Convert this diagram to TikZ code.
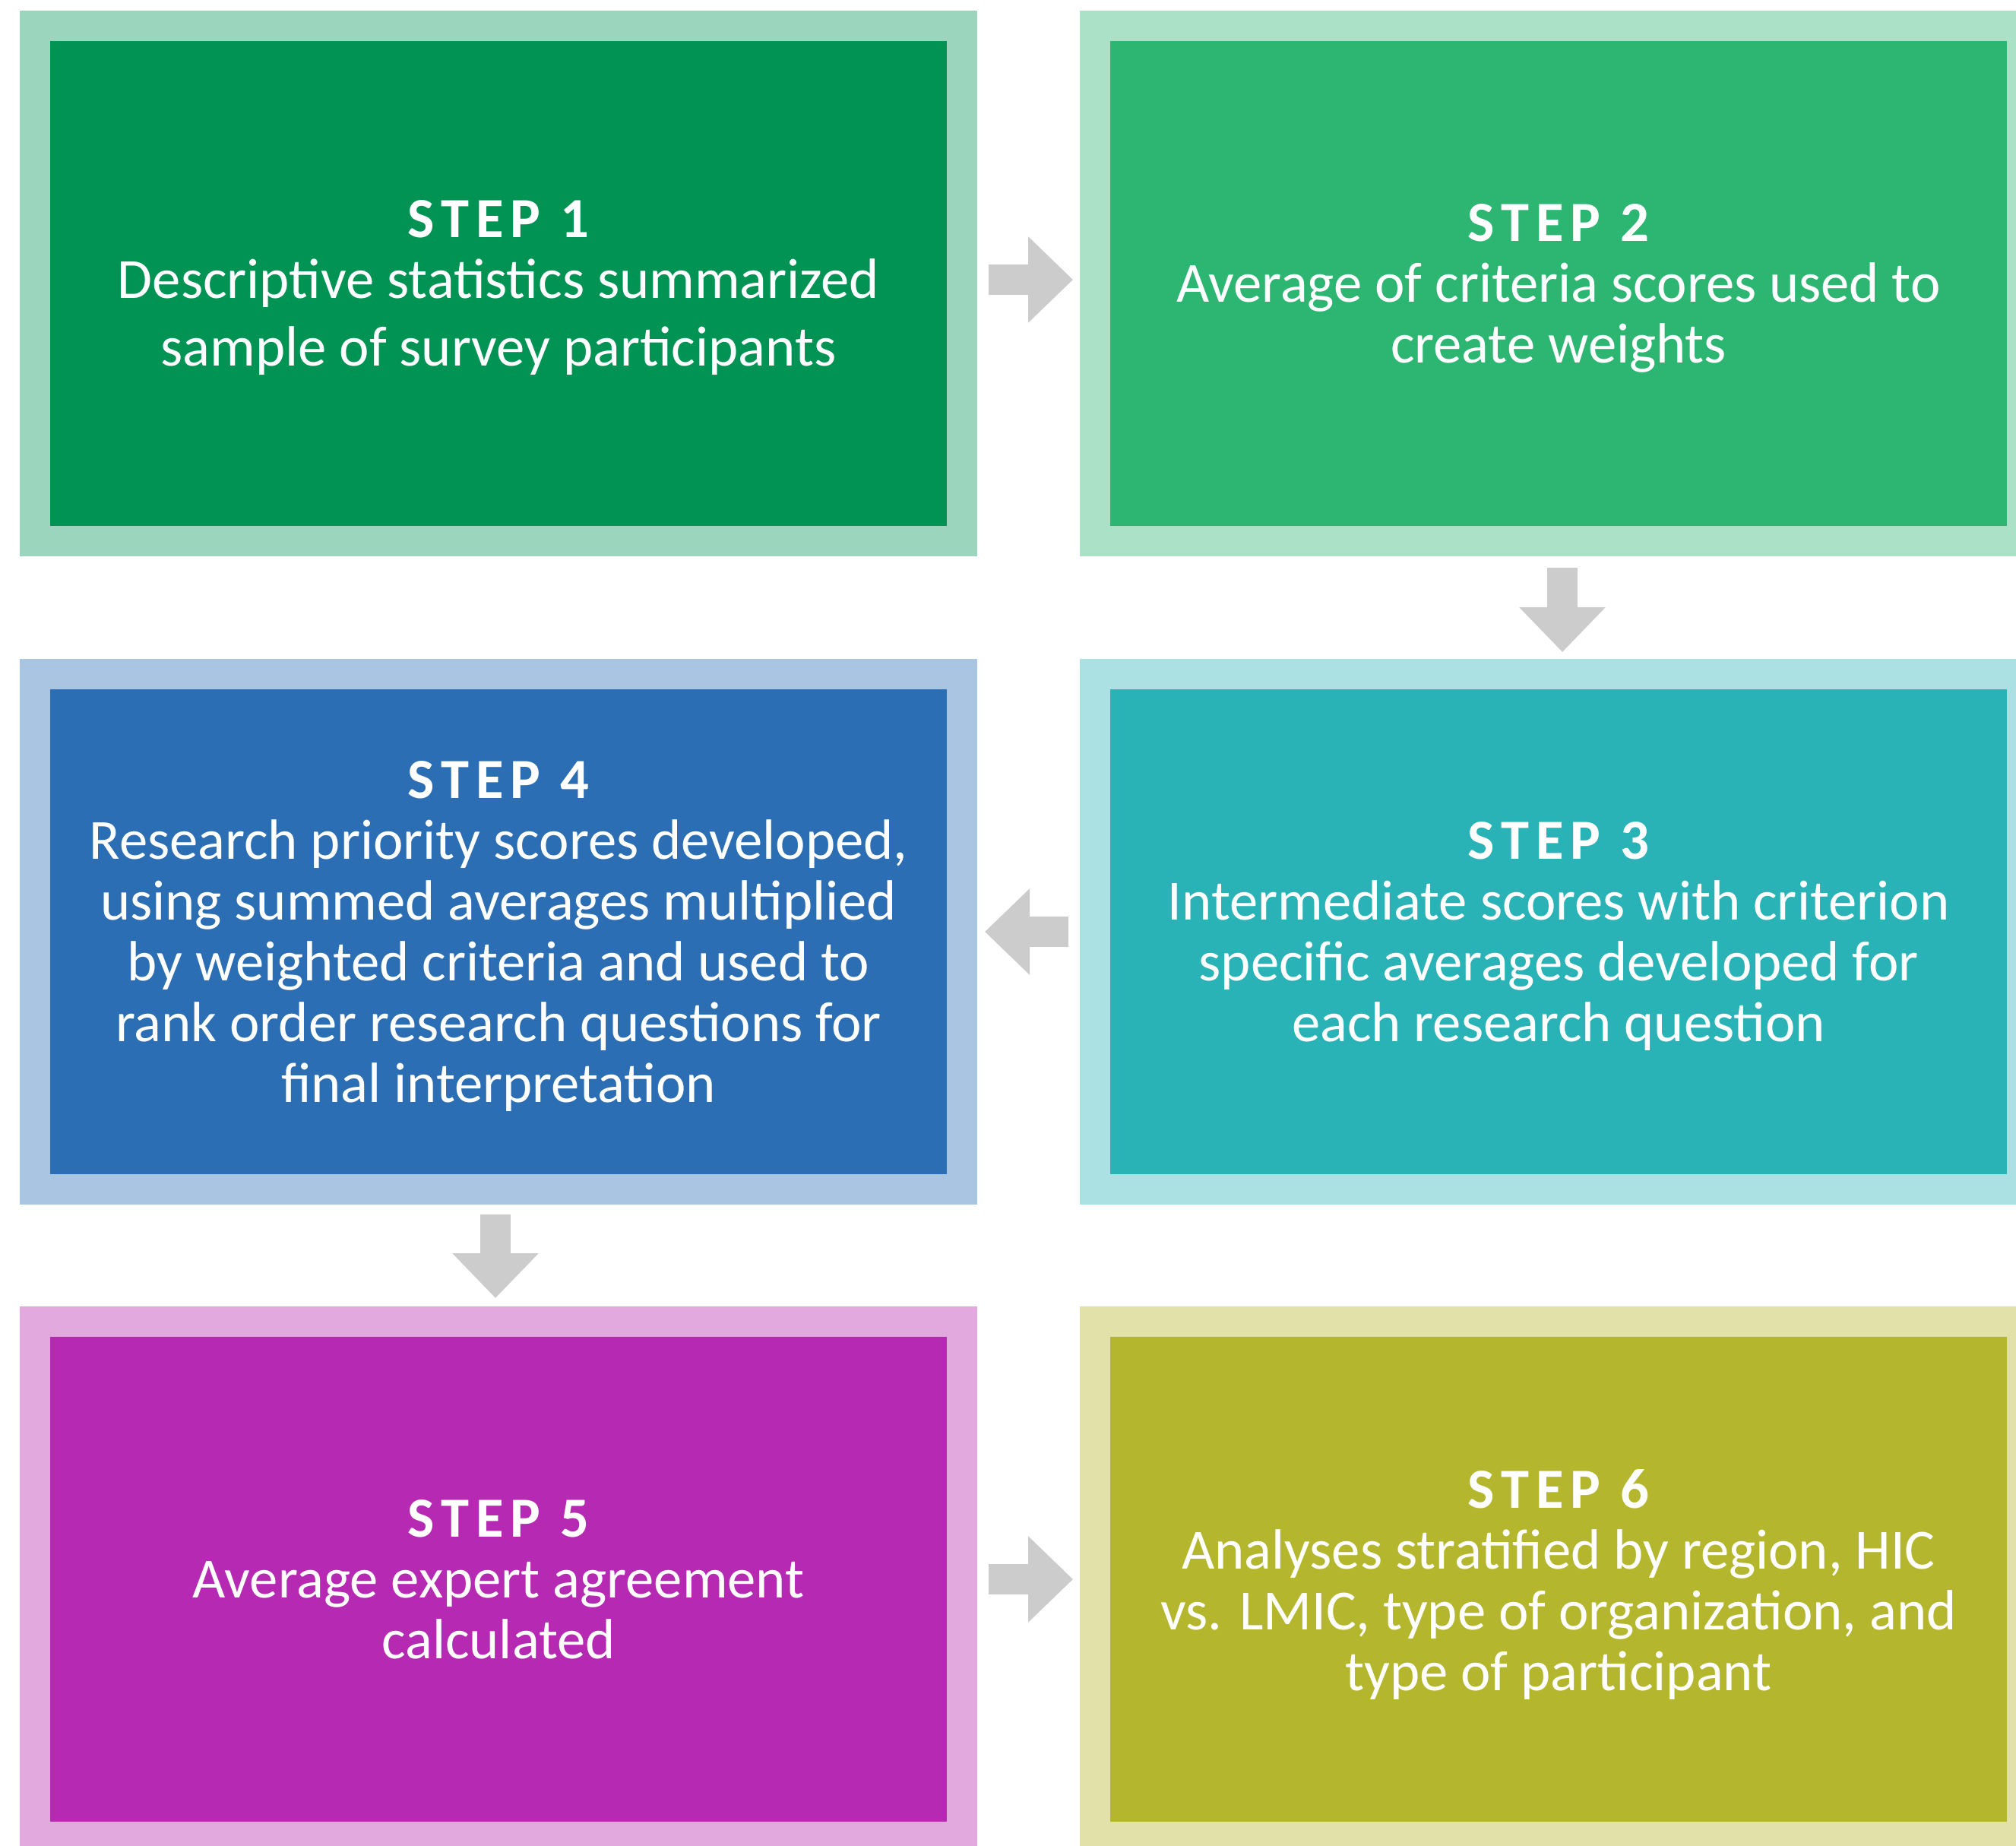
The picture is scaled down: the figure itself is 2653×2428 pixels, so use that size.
\documentclass[tikz,border=0pt]{standalone}
\usepackage{fontspec}
\setmainfont{Carlito}
\newfontfamily\stepfont[LetterSpace=12]{Carlito}
\usetikzlibrary{arrows.meta,calc}
\definecolor{cAo}{HTML}{9CD5BE}\definecolor{cAi}{HTML}{009354}
\definecolor{cBo}{HTML}{ABE2C7}\definecolor{cBi}{HTML}{2DB672}
\definecolor{cCo}{HTML}{ABE1E2}\definecolor{cCi}{HTML}{2AB3B6}
\definecolor{cDo}{HTML}{AAC5E2}\definecolor{cDi}{HTML}{2C6EB4}
\definecolor{cEo}{HTML}{E2A9DF}\definecolor{cEi}{HTML}{B62AB3}
\definecolor{cFo}{HTML}{E2E1AA}\definecolor{cFi}{HTML}{B4B72D}
\definecolor{arrowgray}{HTML}{CCCCCC}
\begin{document}
\begin{tikzpicture}[x=0.3pt,y=-0.3pt,
  stepbox/.style={minimum width=366pt,minimum height=203.4pt,line width=12pt,inner sep=0pt},
  steptext/.style={text=white,align=center,anchor=north,inner sep=0pt,font=\fontsize{22.4}{24}\selectfont},
  bigarrow/.style={draw=arrowgray,line width=12pt,-{Triangle[length=17.7pt,width=33pt]}}]
\useasboundingbox (0,0) rectangle (2653,2428);
% boxes
\node[stepbox,fill=cAi,draw=cAo] (b1) at (656,373) {};
\node[stepbox,fill=cBi,draw=cBo] (b2) at (2051,373) {};
\node[stepbox,fill=cCi,draw=cCo] (b3) at (2051,1226) {};
\node[stepbox,fill=cDi,draw=cDo] (b4) at (656,1226) {};
\node[stepbox,fill=cEi,draw=cEo] (b5) at (656,2078) {};
\node[stepbox,fill=cFi,draw=cFo] (b6) at (2051,2078) {};
% texts
\node[steptext] (t1) at (656,263) {{\stepfont\bfseries STEP 1}\\Descriptive statistics summarized\\[2.7pt]sample of survey participants};
\node[steptext] (t2) at (2051,268) {{\stepfont\bfseries STEP 2}\\Average of criteria scores used to\\create weights};
\node[steptext] (t3) at (2051,1081) {{\stepfont\bfseries STEP 3}\\Intermediate scores with criterion\\specific averages developed for\\each research question};
\node[steptext] (t4) at (656,1001) {{\stepfont\bfseries STEP 4}\\Research priority scores developed,\\using summed averages multiplied\\by weighted criteria and used to\\rank order research questions for\\final interpretation};
\node[steptext] (t5) at (656,1973) {{\stepfont\bfseries STEP 5}\\Average expert agreement\\calculated};
\node[steptext] (t6) at (2051,1933) {{\stepfont\bfseries STEP 6}\\Analyses stratified by region, HIC\\vs. LMIC, type of organization, and\\type of participant};
% arrows
\draw[bigarrow] ($(b1.east)+(15,-5)$) -- ($(b2.west)+(-9,-5)$);
\draw[bigarrow] ($(b2.south)+(5,15)$) -- ($(b3.north)+(5,-9)$);
\draw[bigarrow] ($(b3.west)+(-15,0)$) -- ($(b4.east)+(10,0)$);
\draw[bigarrow] ($(b4.south)+(-4,13)$) -- ($(b5.north)+(-4,-11)$);
\draw[bigarrow] ($(b5.east)+(15,0)$) -- ($(b6.west)+(-9,0)$);
\end{tikzpicture}
\end{document}
